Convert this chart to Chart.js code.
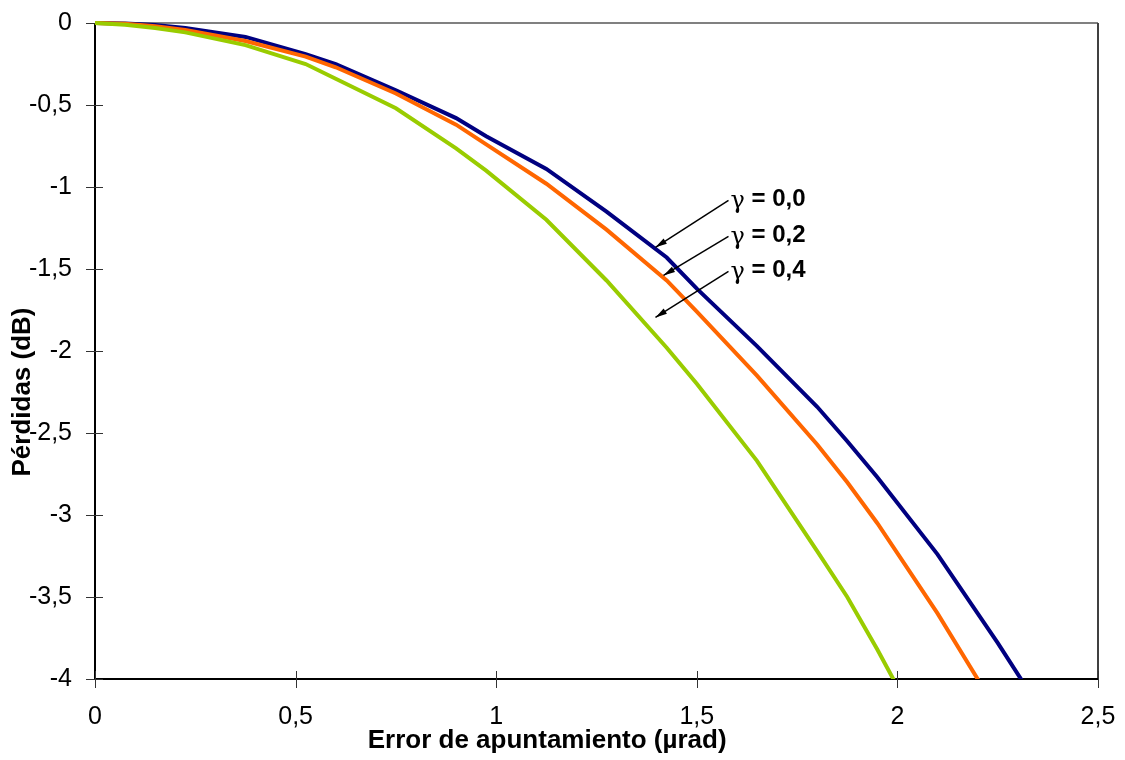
<!DOCTYPE html>
<html>
<head>
<meta charset="utf-8">
<script src="https://cdn.jsdelivr.net/npm/chart.js@4"></script>
<style>
  html, body { margin: 0; padding: 0; background: #fff; }
  #wrap { width: 1125px; height: 760px; }
</style>
</head>
<body>
<div id="wrap"><canvas id="myChart" width="1125" height="760"></canvas></div>
<script>
// error de apuntamiento (µrad)
const errorX = [0, 0.075, 0.15, 0.225, 0.375, 0.525, 0.6, 0.75, 0.9, 0.975, 1.125, 1.275, 1.425, 1.5, 1.65, 1.8, 1.875, 1.95, 2.1, 2.25, 2.4];
// pérdidas (dB)
const gamma00 = [0, -0.003, -0.012, -0.03, -0.085, -0.19, -0.25, -0.41, -0.58, -0.69, -0.89, -1.15, -1.43, -1.62, -1.97, -2.34, -2.55, -2.77, -3.24, -3.78, -4.35];
const gamma02 = [0, -0.005, -0.02, -0.043, -0.11, -0.205, -0.27, -0.43, -0.62, -0.74, -0.98, -1.26, -1.57, -1.76, -2.15, -2.57, -2.8, -3.05, -3.6, -4.2, -4.8];
const gamma04 = [0, -0.01, -0.03, -0.057, -0.135, -0.25, -0.34, -0.52, -0.765, -0.9, -1.2, -1.57, -1.98, -2.2, -2.67, -3.22, -3.5, -3.82, -4.5, -5.2, -6.0];

const xTicks = [0, 0.5, 1, 1.5, 2, 2.5];
const yTicks = [0, -0.5, -1, -1.5, -2, -2.5, -3, -3.5, -4];

// labels: value after "γ = ", text anchor (x, y) and arrow tip (x, y), in data units
const labels = ["0,0", "0,2", "0,4"];
const labelPos = [[1.584, -1.075], [1.584, -1.295], [1.584, -1.508]];
const arrowTip = [[1.397, -1.368], [1.417, -1.539], [1.397, -1.795]];

const pts = (ys) => errorX.map((x, i) => ({ x: x, y: ys[i] }));
const fmt = (v) => String(v).replace(".", ",");
const FONT = "'Liberation Sans', Arial, sans-serif";

const frame = {
    id: "frame",
    beforeDatasetsDraw(chart) {
        const { ctx, chartArea: a, scales } = chart;
        ctx.save();
        // top border (gray) and right border
        ctx.lineWidth = 2;
        ctx.strokeStyle = "#808080";
        ctx.beginPath();
        ctx.moveTo(a.left, a.top);
        ctx.lineTo(a.right, a.top);
        ctx.stroke();
        ctx.strokeStyle = "#404040";
        ctx.beginPath();
        ctx.moveTo(a.right, a.top);
        ctx.lineTo(a.right, a.bottom);
        ctx.stroke();
        // axes
        ctx.strokeStyle = "#000";
        ctx.beginPath();
        ctx.moveTo(a.left, a.top);
        ctx.lineTo(a.left, a.bottom);
        ctx.lineTo(a.right, a.bottom);
        ctx.stroke();
        // cross tick marks
        ctx.lineWidth = 1;
        ctx.strokeStyle = "#333";
        ctx.beginPath();
        xTicks.forEach(v => {
            const px = Math.round(scales.x.getPixelForValue(v)) + 0.5;
            ctx.moveTo(px, a.bottom - 8);
            ctx.lineTo(px, a.bottom + 9);
        });
        yTicks.forEach(v => {
            const py = Math.round(scales.y.getPixelForValue(v)) + 0.5;
            ctx.moveTo(a.left - 9, py);
            ctx.lineTo(a.left + 8, py);
        });
        ctx.stroke();
        ctx.restore();
    },
    afterDraw(chart) {
        const { ctx, scales } = chart;
        ctx.save();
        ctx.fillStyle = "#000";
        ctx.strokeStyle = "#000";
        ctx.textBaseline = "middle";
        ctx.textAlign = "center";
        // axis titles
        ctx.font = "bold 26px " + FONT;
        ctx.fillText("Error de apuntamiento (µrad)", scales.x.getPixelForValue(1.127), 741);
        ctx.save();
        ctx.translate(23, scales.y.getPixelForValue(-2.25));
        ctx.rotate(-Math.PI / 2);
        ctx.fillText("Pérdidas (dB)", 0, 0);
        ctx.restore();
        ctx.textAlign = "left";
        labels.forEach((t, i) => {
            const tx = scales.x.getPixelForValue(labelPos[i][0]);
            const ty = scales.y.getPixelForValue(labelPos[i][1]);
            ctx.font = "24px 'DejaVu Serif', serif";
            ctx.fillText("γ", tx, ty + 2);
            const gw = ctx.measureText("γ").width;
            ctx.font = "bold 24px " + FONT;
            ctx.fillText(" = " + t, tx + gw, ty);
            const ex = scales.x.getPixelForValue(arrowTip[i][0]);
            const ey = scales.y.getPixelForValue(arrowTip[i][1]);
            const sx = tx - 2, sy = ty + 1;
            ctx.lineWidth = 1.5;
            ctx.beginPath();
            ctx.moveTo(sx, sy);
            ctx.lineTo(ex, ey);
            ctx.stroke();
            const ang = Math.atan2(ey - sy, ex - sx);
            ctx.beginPath();
            ctx.moveTo(ex, ey);
            ctx.lineTo(ex - 12 * Math.cos(ang - 0.26), ey - 12 * Math.sin(ang - 0.26));
            ctx.lineTo(ex - 12 * Math.cos(ang + 0.26), ey - 12 * Math.sin(ang + 0.26));
            ctx.closePath();
            ctx.fill();
        });
        ctx.restore();
    }
};

const lineStyle = { showLine: true, borderWidth: 4, pointRadius: 0, tension: 0, fill: false, clip: { left: 5, top: 5, right: 0, bottom: 0 } };

new Chart(document.getElementById("myChart"), {
    type: "scatter",
    data: {
        datasets: [
            { ...lineStyle, label: "γ = 0,4", data: pts(gamma04), borderColor: "#99CC00" },
            { ...lineStyle, label: "γ = 0,2", data: pts(gamma02), borderColor: "#FF6600" },
            { ...lineStyle, label: "γ = 0,0", data: pts(gamma00), borderColor: "#000080" }
        ]
    },
    options: {
        responsive: false,
        animation: false,
        layout: { padding: { left: 10, right: 27, top: 23, bottom: 0 } },
        plugins: { legend: { display: false }, tooltip: { enabled: false } },
        scales: {
            x: {
                type: "linear", min: 0, max: 2.5,
                afterBuildTicks: (s) => { s.ticks = xTicks.map(v => ({ value: v })); },
                afterFit: (s) => { s.height = 81; s.paddingLeft = 0; s.paddingRight = 0; },
                border: { display: false },
                grid: { display: false },
                ticks: { color: "#000", padding: 15, maxRotation: 0, font: { family: FONT, size: 25 }, callback: (v) => fmt(v) },
                title: { display: false }
            },
            y: {
                type: "linear", min: -4, max: 0,
                afterBuildTicks: (s) => { s.ticks = yTicks.map(v => ({ value: v })); },
                afterFit: (s) => { s.width = 85; s.paddingTop = 0; s.paddingBottom = 0; },
                border: { display: false },
                grid: { display: false },
                ticks: { color: "#000", padding: 15, font: { family: FONT, size: 25 }, callback: (v) => fmt(v) },
                title: { display: false }
            }
        }
    },
    plugins: [frame]
});
</script>
</body>
</html>
